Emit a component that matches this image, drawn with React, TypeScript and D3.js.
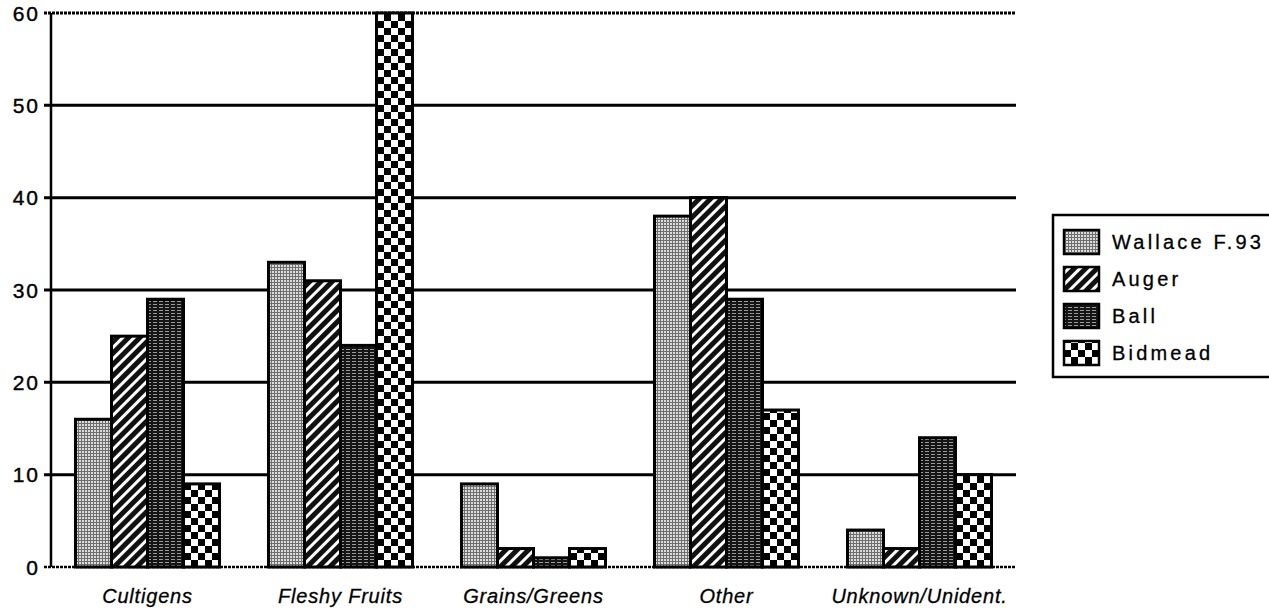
import * as d3 from 'd3'

const categories = ['Cultigens', 'Fleshy Fruits', 'Grains/Greens', 'Other', 'Unknown/Unident.']
const seriesNames = ['Wallace F.93', 'Auger', 'Ball', 'Bidmead']
const wallace = [16, 33, 9, 38, 4]
const auger = [25, 31, 2, 40, 2]
const ball = [29, 24, 1, 29, 14]
const bidmead = [9, 60, 2, 17, 10]
const yTicks = [0, 10, 20, 30, 40, 50, 60]

const seriesValues = [wallace, auger, ball, bidmead]
const patternIds = ['pat-wallace', 'pat-auger', 'pat-ball', 'pat-bidmead']

export default function App() {
  const W = 1269
  const H = 614
  const m = { left: 51, right: 253, top: 13, bottom: 47 }
  const plotR = W - m.right
  const plotB = H - m.bottom

  const x0 = d3.scaleBand<string>().domain(categories).range([m.left, plotR]).padding(0)
  const x1 = d3.scaleBand<string>().domain(seriesNames).range([0, x0.bandwidth()]).paddingInner(0).paddingOuter(0.68)
  const y = d3.scaleLinear().domain([0, 60]).range([plotB, m.top])

  // legend row centres
  const legendY = d3.scalePoint<string>().domain(seriesNames).range([242, 353])
  const swH = 24

  const font = '"Liberation Sans", Arial, Helvetica, sans-serif'

  return (
    <svg width={W} height={H} style={{ position: 'absolute', left: 0, top: 0, background: '#fff' }}>
      <defs>
        {/* grey fine mesh */}
        <pattern id="pat-wallace" width={3} height={3} patternUnits="userSpaceOnUse">
          <rect width={3} height={3} fill="#dcdcdc" />
          <rect width={3} height={1} fill="#6e6e6e" />
          <rect width={1} height={3} fill="#6e6e6e" />
        </pattern>
        {/* diagonal hatch */}
        <pattern id="pat-auger" width={8} height={8} patternUnits="userSpaceOnUse" patternTransform="rotate(45)">
          <rect width={8} height={8} fill="#111" />
          <rect x={0} y={0} width={3} height={8} fill="#fff" />
        </pattern>
        {/* dark with horizontal lines */}
        <pattern id="pat-ball" width={6} height={3} patternUnits="userSpaceOnUse">
          <rect width={6} height={3} fill="#151515" />
          <rect x={0} y={1} width={4} height={1} fill="#9a9a9a" />
        </pattern>
        {/* checkerboard */}
        <pattern id="pat-bidmead" width={14} height={14} patternUnits="userSpaceOnUse">
          <rect width={14} height={14} fill="#fff" />
          <rect x={0} y={0} width={7} height={7} fill="#000" />
          <rect x={7} y={7} width={7} height={7} fill="#000" />
        </pattern>
      </defs>

      {/* gridlines */}
      {yTicks.filter(t => t > 0).map(t => (
        <line key={t} x1={m.left - 7} x2={plotR} y1={y(t)} y2={y(t)} stroke="#000" strokeWidth={3}
          strokeDasharray={t === 60 ? '3 1' : undefined} />
      ))}
      {/* baseline */}
      <line x1={m.left - 7} x2={plotR} y1={y(0)} y2={y(0)} stroke="#000" strokeWidth={2.5} strokeDasharray="3 1" />
      {/* y axis */}
      <line x1={m.left} x2={m.left} y1={y(60)} y2={y(0)} stroke="#000" strokeWidth={2.5} />

      {/* bars */}
      {categories.map((c, ci) => (
        <g key={c} transform={`translate(${x0(c)},0)`}>
          {seriesNames.map((s, si) => {
            const v = seriesValues[si][ci]
            return (
              <rect key={s} x={x1(s)} y={y(v)} width={x1.bandwidth()} height={y(0) - y(v)}
                fill={`url(#${patternIds[si]})`} stroke="#000" strokeWidth={3} />
            )
          })}
        </g>
      ))}

      {/* y tick labels */}
      {yTicks.map(t => (
        <text key={t} x={40} y={y(t)} dy="0.36em" textAnchor="end" fontFamily={font} fontSize={21}
          letterSpacing={2} fill="#000" stroke="#000" strokeWidth={0.4}>{t}</text>
      ))}

      {/* x labels */}
      {categories.map(c => (
        <text key={c} x={(x0(c) ?? 0) + x0.bandwidth() / 2} y={603} textAnchor="middle" fontFamily={font}
          fontSize={20} fontStyle="italic" letterSpacing={0.8} fill="#000" stroke="#000" strokeWidth={0.3}>{c}</text>
      ))}

      {/* legend */}
      <rect x={1053} y={215} width={240} height={162} fill="#fff" stroke="#000" strokeWidth={2.5} />
      {seriesNames.map((s, si) => (
        <g key={s}>
          <rect x={1064} y={(legendY(s) ?? 0) - swH / 2} width={35} height={swH} fill={`url(#${patternIds[si]})`}
            stroke="#000" strokeWidth={2.5} />
          <text x={1112} y={legendY(s)} dy="0.36em" fontFamily={font}
            fontSize={20} letterSpacing={3.2} fill="#000" stroke="#000" strokeWidth={0.3}>{s}</text>
        </g>
      ))}
    </svg>
  )
}
